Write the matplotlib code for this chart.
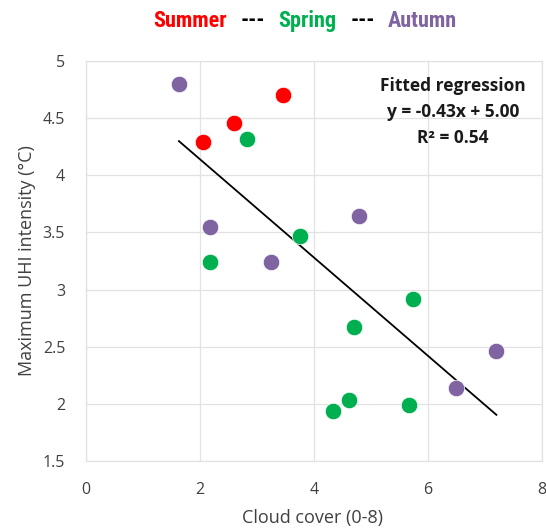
import matplotlib
matplotlib.use("Agg")
import matplotlib.pyplot as plt
from matplotlib import font_manager as fm

summer_x = [3.46, 2.59, 2.06]
summer_y = [4.70, 4.46, 4.29]
spring_x = [2.83, 3.75, 2.18, 5.74, 4.70, 4.62, 4.33, 5.66]
spring_y = [4.32, 3.47, 3.24, 2.92, 2.67, 2.03, 1.94, 1.99]
autumn_x = [1.63, 4.79, 2.18, 3.25, 7.19, 6.49]
autumn_y = [4.80, 3.64, 3.55, 3.24, 2.46, 2.14]
slope, intercept = -0.43, 5.00
fit_x = [1.63, 7.20]
x_ticks = [0, 2, 4, 6, 8]
y_ticks = [1.5, 2, 2.5, 3, 3.5, 4, 4.5, 5]
fit_lines = ["Fitted regression", "y = -0.43x + 5.00", "R² = 0.54"]
title_parts = ["Summer", "---", "Spring", "---", "Autumn"]

def has_font(name):
    try:
        fm.findfont(fm.FontProperties(family=name), fallback_to_default=False)
        return True
    except Exception:
        return False

body = "Open Sans" if has_font("Open Sans") else "DejaVu Sans"

# look for a narrow bold font for the title
narrow_path = None
for f in fm.fontManager.ttflist:
    fn = f.fname.replace(" ", "")
    if "LiberationSansNarrow-Bold." in fn or "RobotoCondensed-Bold" in fn:
        narrow_path = f.fname
        break
if narrow_path:
    title_fp = dict(fontproperties=fm.FontProperties(fname=narrow_path, size=16))
else:
    title_fp = dict(family="Roboto", fontweight="bold", fontsize=14.8)

W, H = 546, 528
fig = plt.figure(figsize=(W/100, H/100), dpi=100)
ax = fig.add_axes([86/W, 1-461/H, 456/W, 400/H])

red, green, purple = "#FF0000", "#00B050", "#8064A2"
ms = 140
ax.scatter(summer_x, summer_y, s=ms, c=red, edgecolors="white", linewidths=0.5, zorder=3)
ax.scatter(spring_x, spring_y, s=ms, c=green, edgecolors="white", linewidths=0.5, zorder=3)
ax.scatter(autumn_x, autumn_y, s=ms, c=purple, edgecolors="white", linewidths=0.5, zorder=3)
ax.plot(fit_x, [slope*x + intercept for x in fit_x], color="black", lw=1.3, zorder=2)

ax.set_xlim(0, 8)
ax.set_ylim(1.5, 5)
ax.set_xticks(x_ticks)
ax.set_yticks(y_ticks)
ax.set_xticklabels([str(v) for v in x_ticks])
ax.set_yticklabels([f"{v:g}" for v in y_ticks])
ax.grid(True, color="#E2E2E2", lw=0.9)
ax.set_axisbelow(True)
for s in ax.spines.values():
    s.set_color("#E2E2E2")
    s.set_linewidth(0.9)
ax.tick_params(length=0, labelsize=11.5, labelcolor="#404040", labelfontfamily=body)
ax.tick_params(axis="y", pad=15)
ax.tick_params(axis="x", pad=15)

ax.set_xlabel("Cloud cover (0-8)", fontsize=13, color="#404040", family=body)
ax.set_ylabel("Maximum UHI intensity (°C)", fontsize=13, color="#404040", family=body)
ax.xaxis.set_label_coords((312-86)/456, (461-518)/400)
ax.xaxis.label.set_va("center")
ax.yaxis.set_label_coords((27-86)/456, (461-261)/400)
ax.yaxis.label.set_va("center")

for txt, yb in zip(fit_lines, [91, 117, 143]):
    fig.text(453/W, 1-yb/H, txt, ha="center", va="baseline", fontsize=12.5,
             fontweight="bold", family=body, color="#1a1a1a")

colors = [red, "black", green, "black", purple]
centers = [190, 252.5, 307.5, 362.5, 422]
for txt, c, cx in zip(title_parts, colors, centers):
    fig.text(cx/W, 1-27/H, txt, ha="center", va="baseline", color=c, **title_fp)

fig.savefig("out.png", dpi=100)
